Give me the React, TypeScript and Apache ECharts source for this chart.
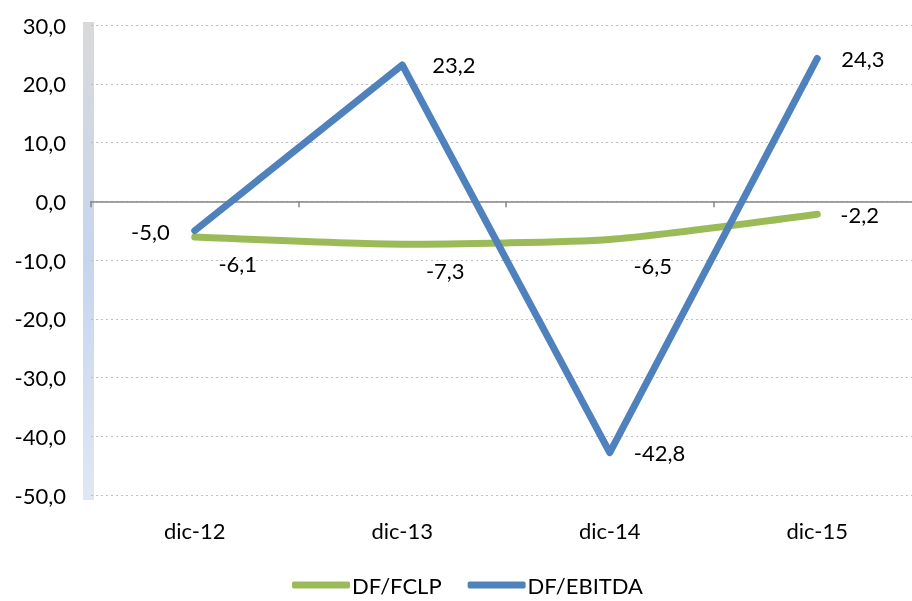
import React, { useEffect, useRef } from "react";
import * as echarts from "echarts";

const categories = ["dic-12", "dic-13", "dic-14", "dic-15"];
const fclp = [-6.1, -7.3, -6.5, -2.2];
const ebitda = [-5.0, 23.2, -42.8, 24.3];
const yMin = -50;
const yMax = 30;
const yInterval = 10;

const fmt = (v: number) => v.toFixed(1).replace(".", ",");
const FONT = "Lato";
const FS = 22;

export default function App() {
  const ref = useRef<HTMLDivElement>(null);
  useEffect(() => {
    const chart = echarts.init(ref.current!, null, { renderer: "svg" });
    const fclpData = fclp.map((v, i) =>
      i === 3 ? { value: v, label: { position: "right", offset: [0, 0], distance: 22 } } : v
    );
    const ebitdaData = ebitda.map((v, i) => {
      if (i === 0) return { value: v, label: { position: "left", distance: 24, offset: [0, 1] } };
      if (i === 1) return { value: v, label: { offset: [6, 0] } };
      return v;
    });
    chart.setOption({
      animation: false,
      textStyle: { fontFamily: FONT },
      grid: { left: 91, right: 0, top: 25, bottom: 106 },
      legend: {
        bottom: 0,
        left: 287,
        itemWidth: 58,
        itemHeight: 7,
        itemGap: 26,
        icon: "roundRect",
        textStyle: { fontSize: FS, color: "#000", fontFamily: FONT, padding: [0, 0, 0, -3] },
        data: ["DF/FCLP", "DF/EBITDA"],
      },
      graphic: [
        {
          type: "rect",
          shape: { x: 83, y: 22, width: 11, height: 478 },
          style: {
            fill: new echarts.graphic.LinearGradient(0, 0, 0, 1, [
              { offset: 0, color: "#d9d9d9" },
              { offset: 0.5, color: "#c6d5ee" },
              { offset: 1, color: "#dfe7f5" },
            ]),
          },
          z: -1,
        },
      ],
      xAxis: [
        {
          type: "category",
          data: categories,
          position: "bottom",
          axisLine: { show: false, onZero: false },
          axisTick: { show: false },
          axisLabel: { fontSize: FS, color: "#000", margin: 24, fontFamily: FONT },
        },
        {
          type: "category",
          data: categories,
          position: "bottom",
          axisLine: { show: true, onZero: true, lineStyle: { color: "#868686", width: 1.5 } },
          axisTick: { show: true, length: 6, lineStyle: { color: "#868686", width: 1.5 } },
          axisLabel: { show: false },
        },
      ],
      yAxis: {
        type: "value",
        min: yMin,
        max: yMax,
        interval: yInterval,
        axisLine: { show: false },
        axisTick: { show: false },
        axisLabel: {
          fontSize: FS,
          color: "#000",
          margin: 25,
          fontFamily: FONT,
          formatter: (v: number) => fmt(v),
        },
        splitLine: { show: true, lineStyle: { color: "#bfbfbf", type: [2, 3], width: 1 } },
      },
      series: [
        {
          name: "DF/FCLP",
          type: "line",
          data: fclpData,
          smooth: 0.2,
          symbol: "circle",
          symbolSize: 2,
          showSymbol: true,
          lineStyle: { color: "#9bbb59", width: 7, cap: "round", join: "round" },
          itemStyle: { color: "#9bbb59" },
          label: {
            show: true,
            position: "bottom",
            offset: [43, 9],
            fontSize: FS,
            color: "#000",
            fontFamily: FONT,
            formatter: (p: any) => fmt(p.value),
          },
          z: 2,
        },
        {
          name: "DF/EBITDA",
          type: "line",
          data: ebitdaData,
          symbol: "circle",
          symbolSize: 2,
          showSymbol: true,
          lineStyle: { color: "#4f81bd", width: 7, cap: "round", join: "round" },
          itemStyle: { color: "#4f81bd" },
          label: {
            show: true,
            position: "right",
            distance: 23,
            offset: [0, 0],
            fontSize: FS,
            color: "#000",
            fontFamily: FONT,
            formatter: (p: any) => fmt(p.value),
          },
          z: 3,
        },
      ],
    });
    return () => chart.dispose();
  }, []);
  return <div ref={ref} style={{ position: "fixed", left: 0, top: 0, width: 921, height: 601 }} />;
}
